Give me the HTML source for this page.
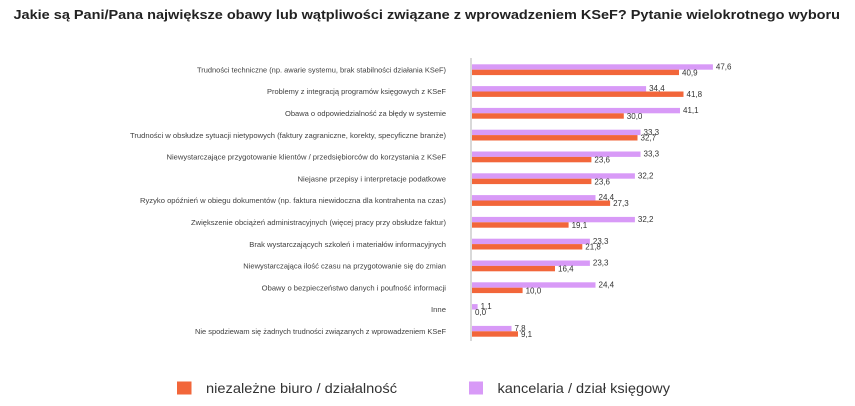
<!DOCTYPE html>
<html>
<head>
<meta charset="utf-8">
<style>
html,body{margin:0;padding:0;background:#fff;}
svg{display:block;}
text{font-family:"Liberation Sans","DejaVu Sans",sans-serif;}
</style>
</head>
<body>
<svg width="855" height="406" viewBox="0 0 855 406" xmlns="http://www.w3.org/2000/svg">
<rect width="855" height="406" fill="#fff"/>
<text x="13.5" y="19" font-size="12.5" font-weight="bold" fill="#222" textLength="826.5" lengthAdjust="spacingAndGlyphs">Jakie są Pani/Pana największe obawy lub wątpliwości związane z wprowadzeniem KSeF? Pytanie wielokrotnego wyboru</text>

<!-- axis -->
<rect x="470" y="58" width="2" height="283" fill="#d9d9d9"/>

<g font-size="7.5" fill="#404040" text-anchor="end">
<text x="446" y="72.4" textLength="249" lengthAdjust="spacingAndGlyphs">Trudności techniczne (np. awarie systemu, brak stabilności działania KSeF)</text>
<text x="446" y="94.2" textLength="179" lengthAdjust="spacingAndGlyphs">Problemy z integracją programów księgowych z KSeF</text>
<text x="446" y="116.0" textLength="161" lengthAdjust="spacingAndGlyphs">Obawa o odpowiedzialność za błędy w systemie</text>
<text x="446" y="137.8" textLength="316" lengthAdjust="spacingAndGlyphs">Trudności w obsłudze sytuacji nietypowych (faktury zagraniczne, korekty, specyficzne branże)</text>
<text x="446" y="159.6" textLength="279.5" lengthAdjust="spacingAndGlyphs">Niewystarczające przygotowanie klientów / przedsiębiorców do korzystania z KSeF</text>
<text x="446" y="181.4" textLength="148.5" lengthAdjust="spacingAndGlyphs">Niejasne przepisy i interpretacje podatkowe</text>
<text x="446" y="203.2" textLength="306" lengthAdjust="spacingAndGlyphs">Ryzyko opóźnień w obiegu dokumentów (np. faktura niewidoczna dla kontrahenta na czas)</text>
<text x="446" y="225.0" textLength="255" lengthAdjust="spacingAndGlyphs">Zwiększenie obciążeń administracyjnych (więcej pracy przy obsłudze faktur)</text>
<text x="446" y="246.8" textLength="196.7" lengthAdjust="spacingAndGlyphs">Brak wystarczających szkoleń i materiałów informacyjnych</text>
<text x="446" y="268.6" textLength="202.7" lengthAdjust="spacingAndGlyphs">Niewystarczająca ilość czasu na przygotowanie się do zmian</text>
<text x="446" y="290.4" textLength="184.3" lengthAdjust="spacingAndGlyphs">Obawy o bezpieczeństwo danych i poufność informacji</text>
<text x="446" y="312.2" textLength="15" lengthAdjust="spacingAndGlyphs">Inne</text>
<text x="446" y="334.0" textLength="251" lengthAdjust="spacingAndGlyphs">Nie spodziewam się żadnych trudności związanych z wprowadzeniem KSeF</text>
</g>

<!-- bars: purple (kancelaria) y=c-5.4, orange y=c ; c = 69.7 + i*21.8 ; x0=472, scale 5.06 -->
<g fill="#d89af7">
<rect x="472" y="64.3" width="240.9" height="5.4"/>
<rect x="472" y="86.1" width="174.1" height="5.4"/>
<rect x="472" y="107.9" width="208.0" height="5.4"/>
<rect x="472" y="129.7" width="168.5" height="5.4"/>
<rect x="472" y="151.5" width="168.5" height="5.4"/>
<rect x="472" y="173.3" width="162.9" height="5.4"/>
<rect x="472" y="195.1" width="123.5" height="5.4"/>
<rect x="472" y="216.9" width="162.9" height="5.4"/>
<rect x="472" y="238.7" width="117.9" height="5.4"/>
<rect x="472" y="260.5" width="117.9" height="5.4"/>
<rect x="472" y="282.3" width="123.5" height="5.4"/>
<rect x="472" y="304.1" width="5.6" height="5.4"/>
<rect x="472" y="325.9" width="39.5" height="5.4"/>
</g>
<g fill="#f2663a">
<rect x="472" y="69.7" width="207.0" height="5.4"/>
<rect x="472" y="91.5" width="211.5" height="5.4"/>
<rect x="472" y="113.3" width="151.8" height="5.4"/>
<rect x="472" y="135.1" width="165.5" height="5.4"/>
<rect x="472" y="156.9" width="119.4" height="5.4"/>
<rect x="472" y="178.7" width="119.4" height="5.4"/>
<rect x="472" y="200.5" width="138.1" height="5.4"/>
<rect x="472" y="222.3" width="96.6" height="5.4"/>
<rect x="472" y="244.1" width="110.3" height="5.4"/>
<rect x="472" y="265.9" width="83.0" height="5.4"/>
<rect x="472" y="287.7" width="50.6" height="5.4"/>
<rect x="472" y="331.3" width="46.0" height="5.4"/>
</g>

<!-- value labels -->
<g font-size="8" fill="#333">
<text x="715.9" y="69.4">47,6</text>
<text x="682.0" y="75.3">40,9</text>
<text x="649.1" y="91.2">34,4</text>
<text x="686.5" y="97.1">41,8</text>
<text x="683.0" y="113.0">41,1</text>
<text x="626.8" y="118.9">30,0</text>
<text x="643.5" y="134.8">33,3</text>
<text x="640.5" y="140.7">32,7</text>
<text x="643.5" y="156.6">33,3</text>
<text x="594.4" y="162.5">23,6</text>
<text x="637.9" y="178.4">32,2</text>
<text x="594.4" y="184.3">23,6</text>
<text x="598.5" y="200.2">24,4</text>
<text x="613.1" y="206.1">27,3</text>
<text x="637.9" y="222.0">32,2</text>
<text x="571.6" y="227.9">19,1</text>
<text x="592.9" y="243.8">23,3</text>
<text x="585.3" y="249.7">21,8</text>
<text x="592.9" y="265.6">23,3</text>
<text x="558.0" y="271.5">16,4</text>
<text x="598.5" y="287.4">24,4</text>
<text x="525.6" y="293.3">10,0</text>
<text x="480.6" y="309.2">1,1</text>
<text x="475.0" y="315.1">0,0</text>
<text x="514.5" y="331.0">7,8</text>
<text x="521.0" y="336.9">9,1</text>
</g>

<!-- legend -->
<rect x="177" y="381.5" width="14.5" height="13" fill="#f2663a"/>
<text x="206" y="393" font-size="14" fill="#333" textLength="191" lengthAdjust="spacingAndGlyphs">niezależne biuro / działalność</text>
<rect x="469" y="381.5" width="14" height="13" fill="#d89af7"/>
<text x="497.5" y="393" font-size="14" fill="#333" textLength="172.5" lengthAdjust="spacingAndGlyphs">kancelaria / dział księgowy</text>
</svg>
</body>
</html>
